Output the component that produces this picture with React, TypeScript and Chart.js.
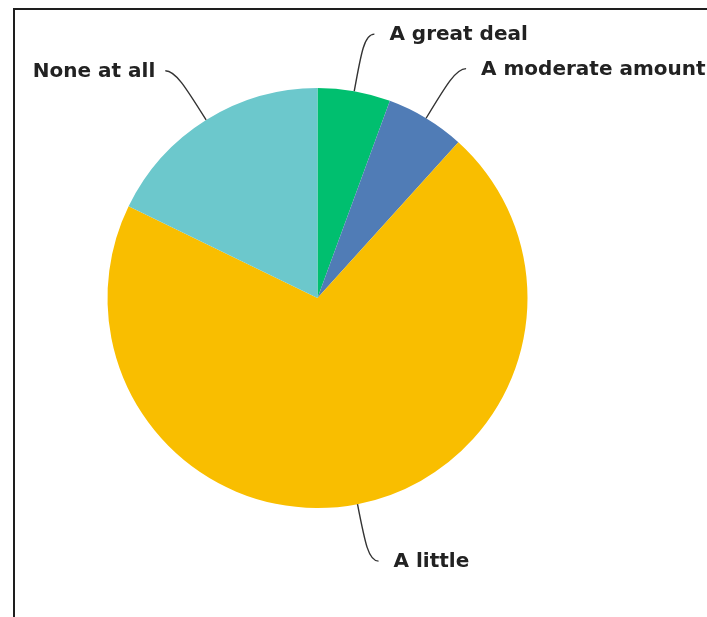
import React, { useEffect, useRef } from "react";
import { Chart, registerables } from "chart.js";

Chart.register(...registerables);

const categories = ["A great deal", "A moderate amount", "A little", "None at all"];
const values = [5.6, 6.1, 70.5, 17.8];
const colors = ["#00BF6F", "#507CB6", "#F9BE00", "#6CC8CC"];

const leaderPlugin = {
  id: "leaders",
  beforeDraw(chart: any) {
    const ctx = chart.ctx;
    ctx.save();
    ctx.fillStyle = "#1e1e1e";
    ctx.fillRect(13, 8, 707, 2);
    ctx.fillRect(13, 8, 2, 617);
    ctx.restore();
  },
  afterDatasetsDraw(chart: any) {
    const ctx = chart.ctx;
    const meta = chart.getDatasetMeta(0);
    ctx.save();
    ctx.strokeStyle = "#333";
    ctx.lineWidth = 1.4;
    ctx.fillStyle = "#222";
    ctx.font = "bold 20px 'DejaVu Sans'";
    ctx.textBaseline = "middle";
    meta.data.forEach((arc: any, i: number) => {
      const { x, y, startAngle, endAngle, outerRadius } = arc.getProps(
        ["x", "y", "startAngle", "endAngle", "outerRadius"],
        true
      );
      const mid = (startAngle + endAngle) / 2;
      const cx = Math.cos(mid);
      const cy = Math.sin(mid);
      const right = cx >= 0;
      const sx = right ? 1 : -1;
      const p0x = x + cx * outerRadius;
      const p0y = y + cy * outerRadius;
      const c1x = x + cx * (outerRadius + 40);
      const c1y = y + cy * (outerRadius + 40);
      const c2x = x + cx * (outerRadius + 58);
      const c2y = y + cy * (outerRadius + 58);
      const ex = c2x + sx * 10;
      const ey = c2y;
      ctx.beginPath();
      ctx.moveTo(p0x, p0y);
      ctx.bezierCurveTo(c1x, c1y, c2x, c2y, ex, ey);
      ctx.stroke();
      ctx.textAlign = right ? "left" : "right";
      ctx.fillText(categories[i], ex + sx * (right ? 15 : 10), ey + 1);
    });
    ctx.restore();
  },
};

export default function App() {
  const ref = useRef<HTMLCanvasElement>(null);
  useEffect(() => {
    if (!ref.current) return;
    const chart = new Chart(ref.current, {
      type: "pie",
      data: {
        labels: categories,
        datasets: [
          {
            data: values,
            backgroundColor: colors,
            borderWidth: 0,
          },
        ],
      },
      options: {
        responsive: false,
        animation: false,
        layout: { padding: { left: 107.5, right: 179.5, top: 88, bottom: 109 } },
        plugins: {
          legend: { display: false },
          tooltip: { enabled: false },
        },
      },
      plugins: [leaderPlugin],
    });
    return () => chart.destroy();
  }, []);
  return (
    <div style={{ position: "fixed", left: 0, top: 0, width: 707, height: 617, background: "#fff" }}>
      <canvas ref={ref} width={707} height={617} style={{ display: "block" }} />
    </div>
  );
}
